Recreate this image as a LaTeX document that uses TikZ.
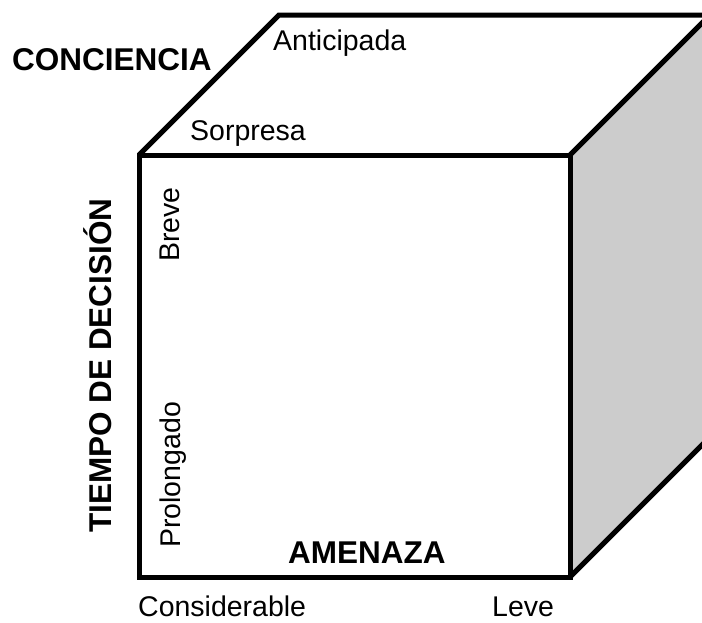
\documentclass[tikz,border=0pt]{standalone}
\usepackage{fontspec}
\setmainfont{Liberation Sans}
\definecolor{sidegray}{HTML}{CCCCCC}
\begin{document}
\begin{tikzpicture}[x=1pt,y=-1pt,
  edge/.style={line width=5pt,line join=miter},
  small/.style={inner sep=0pt,font=\fontsize{28.5}{30}\selectfont},
  big/.style={inner sep=0pt,font=\fontsize{31.5}{33}\selectfont\bfseries}]
\useasboundingbox (0,0) rectangle (702,622);
\clip (0,0) rectangle (702,622);
% corners
\coordinate (FTL) at (139,155);
\coordinate (FTR) at (570,155);
\coordinate (FBL) at (139,577);
\coordinate (FBR) at (570,577);
\coordinate (BTL) at (279,15);
\coordinate (BTR) at (710,15);
\coordinate (BBR) at (710,437);
% faces
\fill[white] (FTL) -- (BTL) -- (BTR) -- (FTR) -- cycle;
\fill[sidegray] (FTR) -- (BTR) -- (BBR) -- (FBR) -- cycle;
\draw[edge] (FTL) -- (BTL) -- (BTR) -- (BBR) -- (FBR);
\draw[edge] (FTR) -- (BTR);
\draw[edge] (FTL) rectangle (FBR);
% labels
\node[big,anchor=base west] (conc) at (12,70) {CONCIENCIA};
\node[small,anchor=base west] (ant) at (273,50) {Anticipada};
\node[small,anchor=base west] (sor) at (190,140) {Sorpresa};
\node[big,anchor=base west,rotate=90] (tiempo) at (111,533) {TIEMPO DE DECISIÓN};
\node[small,anchor=base west,rotate=90] (breve) at (179,262) {Breve};
\node[small,anchor=base west,rotate=90] (prol) at (180,548) {Prolongado};
\node[big,anchor=base west] (amen) at (288,563) {AMENAZA};
\node[small,anchor=base west] (cons) at (138,616) {Considerable};
\node[small,anchor=base west] (leve) at (492,616) {Leve};
\end{tikzpicture}
\end{document}
